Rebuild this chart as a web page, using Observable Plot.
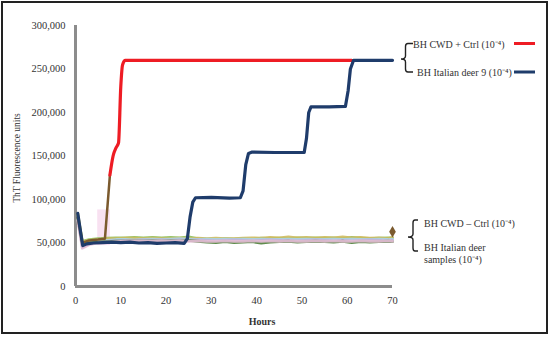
<!DOCTYPE html>
<html>
<head>
<meta charset="utf-8">
<script src="https://cdn.jsdelivr.net/npm/d3@7"></script>
<script src="https://cdn.jsdelivr.net/npm/@observablehq/plot@0.6"></script>
<style>
  html, body { margin: 0; padding: 0; background: #fff; }
  #chart { width: 550px; height: 337px; }
</style>
</head>
<body>
<div id="chart"></div>
<script>
// ---- Data ----
const xTicks = [0, 10, 20, 30, 40, 50, 60, 70];
const yTicks = [0, 50000, 100000, 150000, 200000, 250000, 300000];

const baseHours = [0.5,1.5,3,5,7,9,11,13,15,17,19,21,23,25,27,29,31,33,35,37,39,41,43,45,47,49,51,53,55,57,59,61,63,65,67,69,70];
const sampleA = [82000,52000,54000,55000,55500,56000,56000,56500,56000,56500,56000,56500,56000,57000,55000,54500,54000,55000,54500,55000,54000,55500,55000,55500,55000,56000,55500,56000,55500,56000,55000,56500,55500,55000,55500,56000,56000];
const sampleB = [84000,51000,53000,54000,55000,55000,55500,55500,55000,55500,55000,55000,55500,55000,55500,55000,55500,55000,55000,55500,56000,55500,56500,56000,57000,56000,56500,55500,56500,56000,57000,56000,56500,55500,56000,55000,56500];
const sampleC = [78000,47000,50000,52000,53000,54000,54000,53500,54000,54500,54000,54500,55000,54500,54000,54500,54000,54500,54000,54500,54000,54500,54000,54000,54500,54000,54500,54000,54000,54500,54000,54500,54000,54000,54500,54000,54500];
const sampleD = [80000,45000,49000,51000,52000,52500,53000,53000,53500,53000,53500,53000,53500,53000,53500,53000,52500,53000,53500,53000,52500,53000,53500,53000,53000,52500,53000,53500,53000,52500,53000,52500,53000,53500,53000,52500,53000];
const sampleE = [79000,48000,50000,51000,51500,52000,52000,52500,52000,52500,52000,52500,52000,53000,52000,51000,50500,51500,50500,51000,51500,50000,51000,51500,52000,51000,51500,52000,51500,51000,52000,50500,51500,51000,51500,52000,51500];
const sampleF = [76000,44000,48000,50000,51000,51500,52000,52500,52000,52000,52500,52000,52500,52000,52500,52000,52000,52500,52000,52000,52500,52000,52500,52000,52500,52000,52000,52500,52000,52500,52000,52000,52500,52000,52000,52500,52000];
const sampleNames = ["A","B","C","D","E","F"];
const sampleColors = ["#8fbf5a","#cdbb5e","#a9d3ea","#b9b0d8","#4f7f3a","#e4bcd6"];

const brownHours = [0.5,1.5,3,5,6.5,7.6];
const brownValues = [80000,50000,53000,54000,55000,128000];

const redHours = [7.6,8.3,9,9.5,10,10.4,11,20,30,40,50,61];
const redValues = [128000,150000,160000,165000,230000,255000,260000,260000,260000,260000,260000,260000];

const blueHours = [0.5,1.2,1.6,2.5,4,6,8,10,12,14,16,18,20,22,24,24.7,25.3,25.9,26.5,30,34,36.4,37,37.6,38.2,39,44,50.5,51,51.5,52,56,59.6,60.2,60.7,61.4,70];
const blueValues = [84000,60000,47000,49000,50000,50500,51000,50500,51000,50000,50500,49500,50000,50500,49500,55000,80000,97000,102000,102500,101500,102000,110000,140000,153000,154500,154000,154000,170000,200000,206500,206500,207000,225000,250000,260000,260000];

const shadeX1 = [4.9], shadeX2 = [7.7], shadeY1 = [47000], shadeY2 = [88000];
const markerHour = [70], markerValue = [63000];

const yLabel = "ThT Fluorescence units";
const xLabel = "Hours";

// ---- Build tables ----
const sampleArrays = [sampleA, sampleB, sampleC, sampleD, sampleE, sampleF];
const baseline = [];
sampleArrays.forEach((arr, i) => arr.forEach((v, j) => baseline.push({s: sampleNames[i], h: baseHours[j], v})));
const brown = brownHours.map((h, i) => ({h, v: brownValues[i]}));
const red = redHours.map((h, i) => ({h, v: redValues[i]}));
const blue = blueHours.map((h, i) => ({h, v: blueValues[i]}));
const shade = shadeX1.map((x1, i) => ({x1, x2: shadeX2[i], y1: shadeY1[i], y2: shadeY2[i]}));
const marker = markerHour.map((h, i) => ({h, v: markerValue[i]}));

const fmt = d3.format(",");

const chart = Plot.plot({
  width: 550,
  height: 337,
  marginLeft: 75,
  marginRight: 158,
  marginTop: 25,
  marginBottom: 51,
  style: {fontFamily: "'Liberation Serif', serif", fontSize: "10.5px", color: "#333", background: "#fff"},
  x: {domain: [0, 70], ticks: xTicks, tickSize: 0, tickPadding: 10, label: null},
  y: {domain: [0, 300000], ticks: yTicks, tickSize: 0, tickPadding: 10, tickFormat: fmt, label: null},
  color: {domain: sampleNames, range: sampleColors},
  marks: [
    Plot.rect(shade, {x1: "x1", x2: "x2", y1: "y1", y2: "y2", fill: "#f6d9ee", fillOpacity: 0.8}),
    Plot.ruleX([0], {y1: 0, y2: 300000, stroke: "#8c8c8c", strokeWidth: 3}),
    Plot.ruleY([0], {x1: 0, x2: 70, stroke: "#8c8c8c", strokeWidth: 3}),
    Plot.line(baseline, {x: "h", y: "v", z: "s", stroke: "s", strokeWidth: 2.8, strokeOpacity: 0.9}),
    Plot.line(brown, {x: "h", y: "v", stroke: "#7b5a2e", strokeWidth: 2.5}),
    Plot.line(red, {x: "h", y: "v", stroke: "#ee1c24", strokeWidth: 3.2, curve: "monotone-x"}),
    Plot.line(blue, {x: "h", y: "v", stroke: "#1f3c6b", strokeWidth: 3.2}),
    Plot.dot(marker, {x: "h", y: "v", symbol: "diamond", r: 3.5, fill: "#7b5a2e"})
  ]
});
document.getElementById("chart").appendChild(chart);

// ---- Annotations (axis titles, legend braces, border) ----
const svg = d3.select(chart);
const font = "'Liberation Serif', serif";

svg.append("text")
  .attr("transform", "translate(20,158) rotate(-90)")
  .attr("text-anchor", "middle")
  .attr("font-family", font).attr("font-size", 9.5).attr("fill", "#333")
  .text(yLabel);
svg.append("text")
  .attr("x", 262).attr("y", 325)
  .attr("text-anchor", "middle")
  .attr("font-family", font).attr("font-size", 10).attr("font-weight", "bold").attr("fill", "#333")
  .text(xLabel);

const legendTop = [
  {label: "BH CWD + Ctrl (10⁻⁴)", color: "#ee1c24", tx: 413, ty: 47.5, ly: 43.5},
  {label: "BH Italian deer 9 (10⁻⁴)", color: "#1f3c6b", tx: 417, ty: 75.5, ly: 72}
];
legendTop.forEach(d => {
  svg.append("text").attr("x", d.tx).attr("y", d.ty).attr("text-anchor", "start")
    .attr("font-family", font).attr("font-size", 10).attr("fill", "#333").text(d.label);
  svg.append("line").attr("x1", 514).attr("x2", 535).attr("y1", d.ly).attr("y2", d.ly)
    .attr("stroke", d.color).attr("stroke-width", 3);
});
svg.append("path")
  .attr("d", "M413,43.5 H408 Q405.5,43.5 405.5,46.5 V56 Q405.5,59 401,59 Q405.5,59 405.5,62 V69 Q405.5,72 408,72 H413")
  .attr("fill", "none").attr("stroke", "#222").attr("stroke-width", 1.4);

const legendBottom = [
  {label: "BH CWD – Ctrl (10⁻⁴)", ty: 226.5},
  {label: "BH Italian deer", ty: 250.5},
  {label: "samples (10⁻⁴)", ty: 262.5}
];
legendBottom.forEach(d => {
  svg.append("text").attr("x", 424).attr("y", d.ty).attr("text-anchor", "start")
    .attr("font-family", font).attr("font-size", 10).attr("fill", "#333").text(d.label);
});
svg.append("path")
  .attr("d", "M418,220 H415 Q413,220 413,223 V234 Q413,237 408,237 Q413,237 413,240 V248 Q413,251 415,251 H418")
  .attr("fill", "none").attr("stroke", "#222").attr("stroke-width", 1.4);

svg.append("rect")
  .attr("x", 2).attr("y", 2).attr("width", 545).attr("height", 331)
  .attr("fill", "none").attr("stroke", "#222").attr("stroke-width", 2);
</script>
</body>
</html>
